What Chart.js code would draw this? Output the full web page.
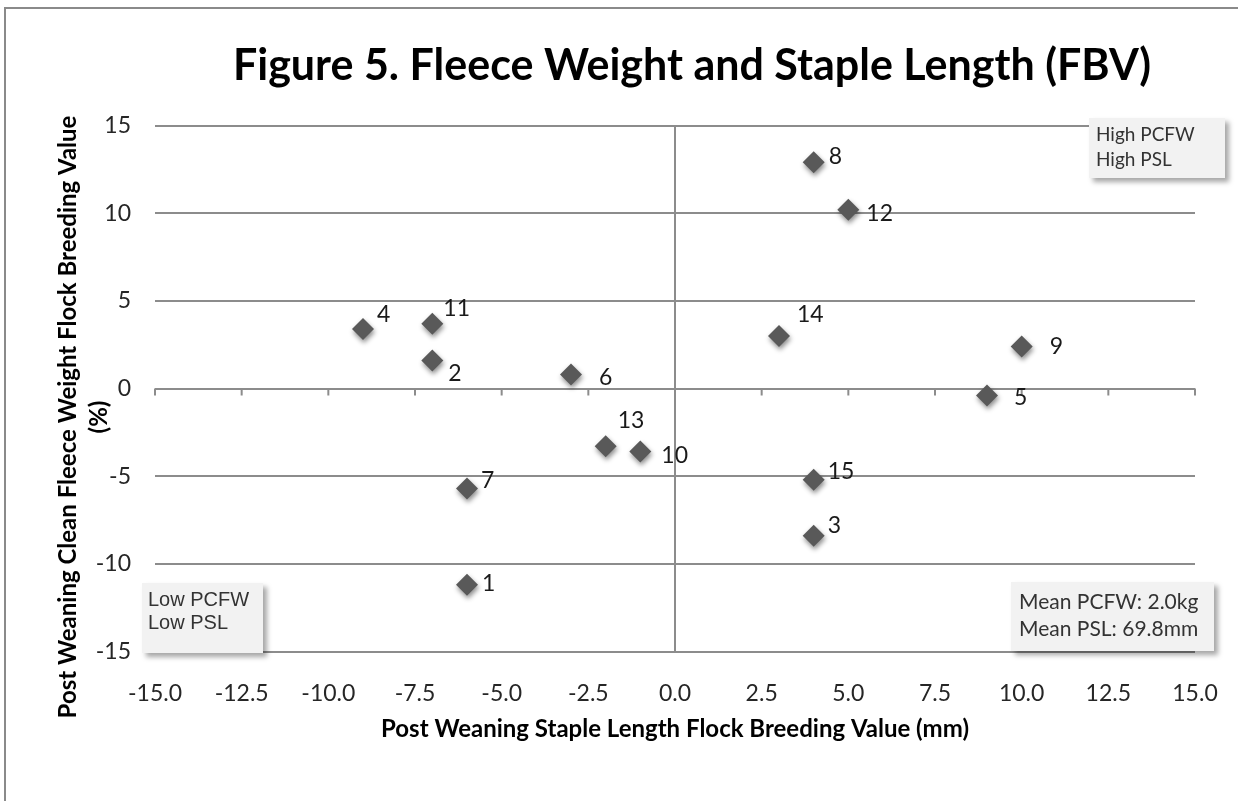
<!DOCTYPE html>
<html>
<head>
<meta charset="utf-8">
<script src="https://cdn.jsdelivr.net/npm/chart.js@4.4.1/dist/chart.umd.min.js"></script>
<style>
  html, body { margin: 0; padding: 0; background: #fff; }
  canvas { display: block; }
</style>
</head>
<body>
<canvas id="chart" width="1238" height="801"></canvas>
<script>
// sire numbers and their flock breeding values
const sires = ['1', '2', '3', '4', '5', '6', '7', '8', '9', '10', '11', '12', '13', '14', '15'];
const pslFbv = [-6, -7, 4, -9, 9, -3, -6, 4, 10, -1, -7, 5, -2, 3, 4];
const pcfwFbv = [-11.2, 1.6, -8.4, 3.4, -0.4, 0.8, -5.7, 12.9, 2.4, -3.6, 3.7, 10.2, -3.3, 3.0, -5.2];

// axis ticks
const xTickValues = [-15, -12.5, -10, -7.5, -5, -2.5, 0, 2.5, 5, 7.5, 10, 12.5, 15];
const yTickValues = [-15, -10, -5, 0, 5, 10, 15];

// where each number sits beside its diamond (px, left edge / middle)
const labelNudge = [
    [15, -1], [16, 13], [14, -10], [14, -14], [27, 2], [28, 3], [14, -8], [15, -6],
    [28, 0], [21, 4], [11, -15], [18, 4], [12, -26], [18, -21], [14, -8]
];

const chartTitle = 'Figure 5. Fleece Weight and Staple Length (FBV)';
const xTitle = 'Post Weaning Staple Length Flock Breeding Value (mm)';
const yTitle = ['Post Weaning Clean Fleece Weight Flock Breeding Value', '(%)'];

const gridColor = '#8c8c8c';
const calibri = 'Lato, "Open Sans", sans-serif';

function textBox(ctx, x, y, w, h, lines, font, tx, ty, gap) {
    ctx.save();
    ctx.shadowColor = 'rgba(0,0,0,0.35)';
    ctx.shadowBlur = 5;
    ctx.shadowOffsetX = 4;
    ctx.shadowOffsetY = 4;
    ctx.fillStyle = '#f2f2f2';
    ctx.fillRect(x, y, w, h);
    ctx.restore();
    ctx.save();
    ctx.font = font;
    ctx.fillStyle = '#333333';
    ctx.textAlign = 'left';
    ctx.textBaseline = 'middle';
    lines.forEach((t, i) => ctx.fillText(t, tx, ty + i * gap));
    ctx.restore();
}

const decorations = {
    id: 'decorations',
    beforeDatasetsDraw(chart) {
        const {ctx, chartArea: a, scales: {x, y}} = chart;
        ctx.save();
        ctx.strokeStyle = gridColor;
        ctx.lineWidth = 2;
        const x0 = x.getPixelForValue(0);
        ctx.beginPath();
        ctx.moveTo(x0, a.top);
        ctx.lineTo(x0, a.bottom);
        ctx.stroke();
        const y0 = y.getPixelForValue(0);
        ctx.beginPath();
        xTickValues.forEach(v => {
            const px = x.getPixelForValue(v);
            ctx.moveTo(px, y0);
            ctx.lineTo(px, y0 + 7);
        });
        ctx.stroke();
        ctx.restore();
    },
    beforeDatasetDraw(chart) {
        const ctx = chart.ctx;
        ctx.save();
        ctx.shadowColor = 'rgba(0,0,0,0.45)';
        ctx.shadowBlur = 5;
        ctx.shadowOffsetX = 1;
        ctx.shadowOffsetY = 3;
    },
    afterDatasetDraw(chart) {
        chart.ctx.restore();
    },
    afterDatasetsDraw(chart) {
        const ctx = chart.ctx;
        const pts = chart.getDatasetMeta(0).data;
        ctx.save();
        ctx.font = '23px ' + calibri;
        ctx.fillStyle = '#1a1a1a';
        ctx.textAlign = 'left';
        ctx.textBaseline = 'middle';
        pts.forEach((p, i) => {
            ctx.fillText(sires[i], p.x + labelNudge[i][0], p.y + labelNudge[i][1]);
        });
        ctx.restore();
    },
    afterDraw(chart) {
        const ctx = chart.ctx;
        ctx.save();
        // chart title
        ctx.font = 'bold 43px ' + calibri;
        ctx.fillStyle = '#000';
        ctx.textAlign = 'center';
        ctx.textBaseline = 'alphabetic';
        ctx.fillText(chartTitle, 692, 80);
        // y axis title
        ctx.font = 'bold 24px ' + calibri;
        ctx.textBaseline = 'middle';
        ctx.translate(68, 417);
        ctx.rotate(-Math.PI / 2);
        ctx.fillText(yTitle[0], 0, 0);
        ctx.fillText(yTitle[1], 0, 31);
        ctx.restore();

        textBox(ctx, 1089, 118, 136, 60, ['High PCFW', 'High PSL'], '19px ' + calibri, 1096, 135, 25);
        textBox(ctx, 142, 583, 121, 70, ['Low PCFW', 'Low PSL'], '20px "Liberation Sans", Arial, sans-serif', 148, 600, 23.5);
        textBox(ctx, 1011, 582, 203, 69, ['Mean PCFW: 2.0kg', 'Mean PSL: 69.8mm'], '21px ' + calibri, 1019, 602, 27);

        // outer frame
        ctx.save();
        ctx.strokeStyle = '#8a8a8a';
        ctx.lineWidth = 2;
        ctx.beginPath();
        ctx.moveTo(5, 801);
        ctx.lineTo(5, 8);
        ctx.lineTo(1238, 8);
        ctx.stroke();
        ctx.restore();
    }
};

const ctx = document.getElementById('chart').getContext('2d');
new Chart(ctx, {
    type: 'scatter',
    data: {
        labels: sires,
        datasets: [{
            data: pslFbv.map((v, i) => ({x: v, y: pcfwFbv[i]})),
            backgroundColor: '#595959',
            borderWidth: 0,
            pointStyle: 'rectRot',
            pointRadius: 11,
            pointHoverRadius: 11
        }]
    },
    options: {
        responsive: false,
        animation: false,
        devicePixelRatio: 1,
        events: [],
        layout: {padding: {top: 125.5, right: 43, left: 0, bottom: 0}},
        plugins: {legend: {display: false}, tooltip: {enabled: false}, title: {display: false}},
        scales: {
            x: {
                type: 'linear',
                min: -15,
                max: 15,
                afterBuildTicks: s => { s.ticks = xTickValues.map(v => ({value: v})); },
                afterFit: s => { s.height = 149.5; },
                grid: {display: false},
                border: {display: false},
                ticks: {
                    padding: 20,
                    color: '#262626',
                    font: {family: calibri, size: 23},
                    callback: v => v.toFixed(1),
                    maxRotation: 0,
                    autoSkip: false
                },
                title: {
                    display: true,
                    text: xTitle,
                    color: '#000',
                    font: {family: calibri, size: 24, weight: 'bold'},
                    padding: {top: 0, bottom: 57}
                }
            },
            y: {
                type: 'linear',
                min: -15,
                max: 15,
                afterBuildTicks: s => { s.ticks = yTickValues.map(v => ({value: v})); },
                afterFit: s => { s.width = 155; },
                grid: {color: gridColor, lineWidth: 2, drawTicks: false},
                border: {display: false},
                ticks: {
                    padding: 24,
                    color: '#262626',
                    font: {family: calibri, size: 23}
                }
            }
        }
    },
    plugins: [decorations]
});
</script>
</body>
</html>
